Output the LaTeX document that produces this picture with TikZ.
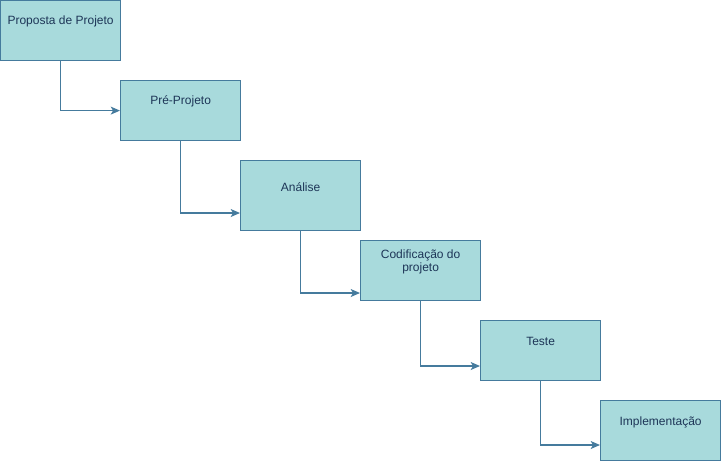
\documentclass[tikz,border=0pt]{standalone}
\usepackage{fontspec}
\setmainfont{Liberation Sans}
\usetikzlibrary{calc,arrows.meta}
\definecolor{boxfill}{HTML}{A8DADC}
\definecolor{boxline}{HTML}{457B9D}
\definecolor{boxtext}{HTML}{1D3557}
\begin{document}
\begin{tikzpicture}[x=0.75pt,y=-0.75pt,
  box/.style={draw=boxline,fill=boxfill,line width=0.9pt,rectangle,minimum width=90pt,minimum height=45pt,inner sep=0pt,anchor=north west},
  tallbox/.style={box,minimum height=52.5pt},
  lbl/.style={text=boxtext,font=\fontsize{9pt}{9.75pt}\selectfont,align=center,inner sep=0pt},
  conn/.style={draw=boxline,line width=0.9pt,-{Stealth[length=7pt,width=6pt,inset=1.8pt]}}]
\useasboundingbox (0,0) rectangle (721,461);
\node[box] (b1) at (0,0) {};
\node[box] (b2) at (120,80) {};
\node[tallbox] (b3) at (240,160) {};
\node[box] (b4) at (360,240) {};
\node[box] (b5) at (480,320) {};
\node[box] (b6) at (600,400) {};
\node[lbl] (t1) at ($(b1.north)+(0,21)$) {Proposta de Projeto};
\node[lbl] (t2) at ($(b2.north)+(0,21.5)$) {Pré-Projeto};
\node[lbl] (t3) at ($(b3.north)+(0,27.5)$) {Análise};
\node[lbl] (t4) at ($(b4.north)+(0,22)$) {Codificação do\\projeto};
\node[lbl] (t5) at ($(b5.north)+(0,21.5)$) {Teste};
\node[lbl] (t6) at ($(b6.north)+(0,22.5)$) {Implementação};
\coordinate (e3) at ($(b3.north west)+(0,53)$);
\coordinate (e4) at ($(b4.north west)+(0,53)$);
\coordinate (e5) at ($(b5.north west)+(0,46)$);
\coordinate (e6) at ($(b6.north west)+(0,45)$);
\draw[conn] (b1.south) |- (b2.west);
\draw[conn] (b2.south) |- (e3);
\draw[conn] (b3.south) |- (e4);
\draw[conn] (b4.south) |- (e5);
\draw[conn] (b5.south) |- (e6);
\end{tikzpicture}
\end{document}
